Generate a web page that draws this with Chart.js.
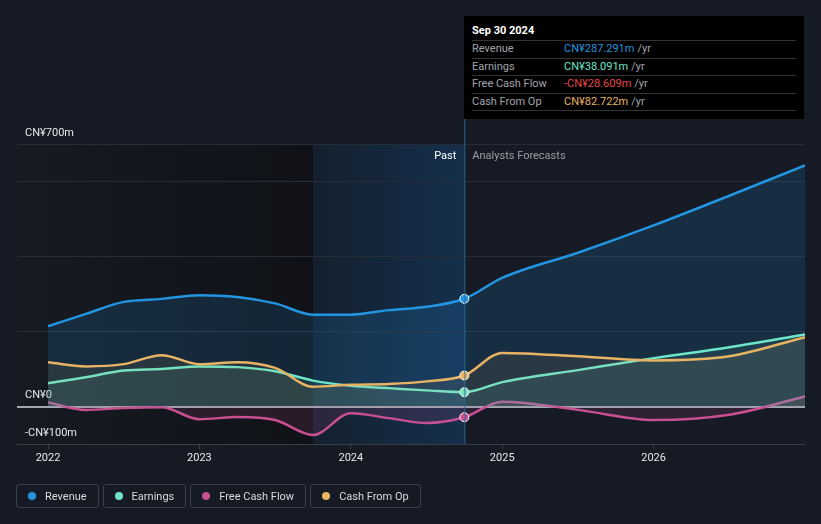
<!DOCTYPE html>
<html>
<head>
<meta charset="utf-8">
<script src="https://cdn.jsdelivr.net/npm/chart.js@4.4.0/dist/chart.umd.min.js"></script>
<style>
  html, body { margin:0; padding:0; background:#151a24; width:821px; height:524px; overflow:hidden; font-family: Roboto, "Noto Sans", sans-serif; }
  #wrap { position:relative; width:821px; height:524px; }
  canvas { position:absolute; left:0; top:0; }
  #tip { position:absolute; left:464px; top:16px; width:340px; height:103px; background:#000; box-sizing:border-box; padding:6px 8px 0 8px; font-size:11px; }
  #tip .title { color:#fff; font-weight:bold; height:18px; line-height:18px; border-bottom:1px solid #333; }
  #tip .row { height:16.5px; line-height:16.5px; border-bottom:1px solid #333; display:flex; }
  #tip .lab { width:92px; color:#a0a4aa; }
  #tip .unit { color:#a0a4aa; margin-left:3px; }
  #legend { position:absolute; left:16px; top:484px; display:flex; gap:4px; }
  .li { height:24px; box-sizing:border-box; border:1px solid #3a404c; border-radius:3px; display:flex; align-items:center; padding:0 11px 0 11px; color:#d8dade; font-size:11px; }
  .dot { width:8px; height:8px; border-radius:50%; margin-right:9px; }
</style>
</head>
<body>
<div id="wrap">
  <canvas id="c" width="821" height="524"></canvas>
  <div id="tip"></div>
  <div id="legend"></div>
</div>
<script>
// ---- data (millions CNY), x in decimal years ----
const pastX = [2022.0, 2022.25, 2022.5, 2022.75, 2023.0, 2023.25, 2023.5, 2023.75, 2024.0, 2024.25, 2024.5, 2024.75];
const forecastX = [2025.0, 2025.5, 2026.0, 2026.5, 2027.0];

const revenuePast = [214, 247, 279, 287, 297, 292, 275, 245, 245, 257, 266, 287.291];
const revenueForecast = [343, 410, 483, 562, 643];

const earningsPast = [62, 78, 96, 100, 107, 105, 94, 69, 55, 49, 43, 38.091];
const earningsForecast = [65, 97, 129, 158, 192];

const fcfPast = [11, -9, -4, -2, -34, -28, -36, -76, -18, -31, -44, -28.609];
const fcfForecast = [13, -9, -36, -22, 27];

const cfoPast = [118, 107, 113, 137, 113, 118, 103, 53, 58, 60, 67, 82.722];
const cfoForecast = [143, 134, 123, 134, 185];

const seriesNames = ['Revenue', 'Earnings', 'Free Cash Flow', 'Cash From Op'];
const seriesColors = ['#2394df', '#6ce5c8', '#c94f93', '#e8b363'];
const tipValueColors = ['#2394df', '#6ce5c8', '#e64545', '#e8b363'];
const tipValues = ['CN¥287.291m', 'CN¥38.091m', '-CN¥28.609m', 'CN¥82.722m'];
const tipDate = 'Sep 30 2024';

const xTickValues = [2022, 2023, 2024, 2025, 2026];
const yGridValues = [-100, 0, 200, 400, 600, 700];
const yLabelled = { '700': 'CN¥700m', '0': 'CN¥0', '-100': '-CN¥100m' };

const pastEnd = 2024.75;
const highlightStart = 2023.75;
const xMin = 2021.795, xMax = 2027.0;

// ---- build ----
const allX = pastX.concat(forecastX);
function pts(p, f) { const v = p.concat(f); return allX.map((x, i) => ({ x, y: v[i] })); }
const seriesData = [
  pts(revenuePast, revenueForecast),
  pts(earningsPast, earningsForecast),
  pts(fcfPast, fcfForecast),
  pts(cfoPast, cfoForecast)
];
const fills = ['rgba(35,148,223,0.16)', 'rgba(108,229,200,0.10)', 'rgba(201,79,147,0.14)', 'rgba(232,179,99,0.09)'];
const pastIdx = pastX.length - 1;
const order = [2, 1, 3, 0];

const datasets = seriesNames.map((n, i) => ({
  label: n,
  data: seriesData[i],
  borderColor: seriesColors[i],
  backgroundColor: fills[i],
  fill: 'origin',
  borderWidth: 2.5,
  cubicInterpolationMode: 'monotone',
  pointRadius: seriesData[i].map((_, k) => k === pastIdx ? 4.5 : 0),
  pointBackgroundColor: seriesColors[i],
  pointBorderColor: '#ffffff',
  pointBorderWidth: 1,
  order: order[i]
}));

const bgPlugin = {
  id: 'bg',
  beforeDraw(chart) {
    const { ctx, chartArea: a, scales: { x } } = chart;
    const xp = x.getPixelForValue(pastEnd);
    const xh = x.getPixelForValue(highlightStart);
    ctx.save();
    let g = ctx.createLinearGradient(a.left, 0, xh, 0);
    g.addColorStop(0, 'rgba(22,26,34,1)');
    g.addColorStop(1, 'rgba(16,18,23,1)');
    ctx.fillStyle = g;
    ctx.fillRect(a.left, a.top, xh - a.left, a.bottom - a.top);
    g = ctx.createLinearGradient(xh, 0, xp, 0);
    g.addColorStop(0, 'rgba(20,32,46,1)');
    g.addColorStop(1, 'rgba(21,47,76,1)');
    ctx.fillStyle = g;
    ctx.fillRect(xh, a.top, xp - xh, a.bottom - a.top);
    ctx.restore();
  },
  afterDatasetsDraw(chart) {
    const { ctx, chartArea: a, scales: { x } } = chart;
    const xp = x.getPixelForValue(pastEnd);
    ctx.save();
    ctx.strokeStyle = 'rgba(45,110,160,0.9)';
    ctx.lineWidth = 1;
    ctx.beginPath(); ctx.moveTo(xp + 0.5, 16); ctx.lineTo(xp + 0.5, a.bottom); ctx.stroke();
    ctx.font = '11px Roboto, "Noto Sans", sans-serif';
    ctx.textBaseline = 'middle';
    ctx.fillStyle = '#ffffff'; ctx.textAlign = 'right';
    ctx.fillText('Past', xp - 8, a.top + 12.5);
    ctx.fillStyle = '#9a9ea6'; ctx.textAlign = 'left';
    ctx.fillText('Analysts Forecasts', xp + 8, a.top + 12.5);
    ctx.restore();
  }
};

const chart = new Chart(document.getElementById('c'), {
  type: 'line',
  data: { datasets },
  plugins: [bgPlugin],
  options: {
    responsive: false,
    animation: false,
    devicePixelRatio: 1,
    layout: { padding: { left: 17, right: 16, top: 144, bottom: 50 } },
    plugins: { legend: { display: false }, tooltip: { enabled: false } },
    scales: {
      x: {
        type: 'linear', min: xMin, max: xMax,
        afterBuildTicks(s) { s.ticks = xTickValues.map(v => ({ value: v })); },
        afterFit(s) { s.height = 30; },
        grid: { drawOnChartArea: false, color: '#3a3f4a', tickLength: 5 },
        border: { display: false },
        ticks: { color: '#e6e8ea', font: { size: 11, family: 'Roboto' }, padding: 3, callback: v => String(v) }
      },
      y: {
        min: -100, max: 700,
        afterBuildTicks(s) { s.ticks = yGridValues.map(v => ({ value: v })); },
        afterFit(s) { s.width = 0; },
        grid: {
          drawTicks: false,
          color: c => c.tick.value === 0 ? '#a3a7ae' : (c.tick.value === -100 ? '#3a3f4a' : '#272d38'),
          lineWidth: c => c.tick.value === 0 ? 2 : 1
        },
        border: { display: false },
        ticks: {
          mirror: true, padding: 8, labelOffset: -11,
          autoSkip: false,
          color: '#e6e8ea', font: { size: 11, family: 'Roboto' },
          callback: v => yLabelled[String(v)] || ''
        }
      }
    }
  }
});

// tooltip box
const tip = document.getElementById('tip');
let html = '<div class="title">' + tipDate + '</div>';
seriesNames.forEach((n, i) => {
  html += '<div class="row"><span class="lab">' + n + '</span><span style="color:' + tipValueColors[i] + '">' + tipValues[i] + '</span><span class="unit">/yr</span></div>';
});
tip.innerHTML = html;

// legend
const lg = document.getElementById('legend');
seriesNames.forEach((n, i) => {
  const d = document.createElement('div'); d.className = 'li';
  d.innerHTML = '<span class="dot" style="background:' + seriesColors[i] + '"></span>' + n;
  lg.appendChild(d);
});
</script>
</body>
</html>
